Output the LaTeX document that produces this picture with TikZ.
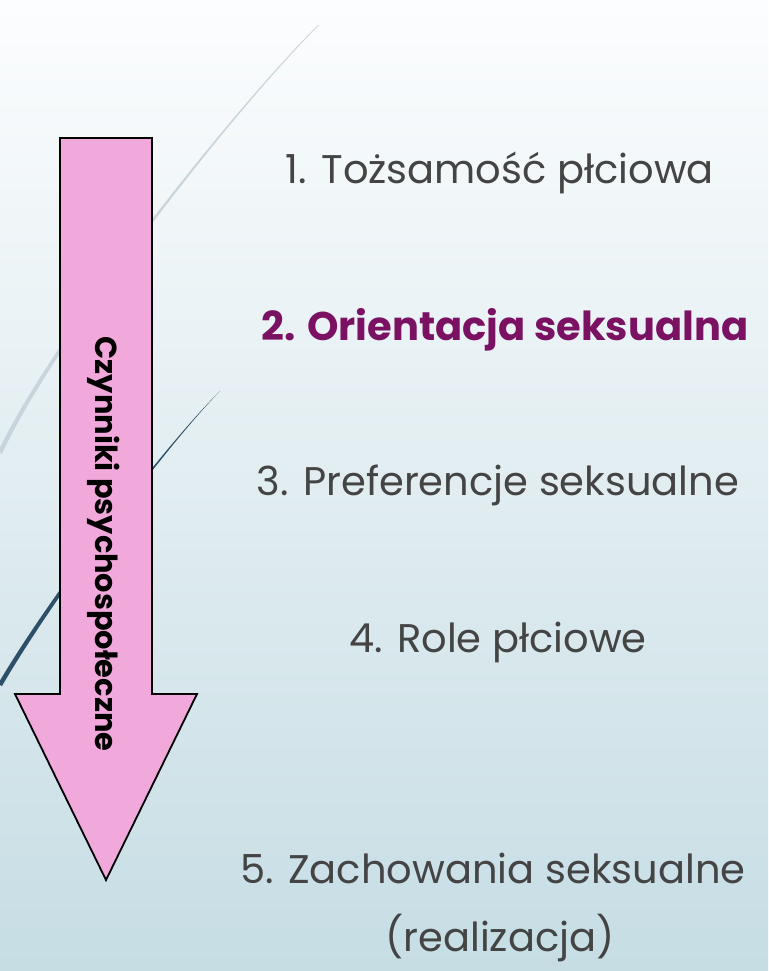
\documentclass[tikz,border=0pt]{standalone}
\usepackage{fontspec}
\setmainfont{Poppins}
\usepackage{xcolor}
\usepackage{tikz}

\definecolor{bgtop}{HTML}{FCFDFE}
\definecolor{bgbottom}{HTML}{C6DDE4}
\definecolor{arrowpink}{HTML}{F1A8DB}
\definecolor{itemgrey}{HTML}{444444}
\definecolor{itempurple}{HTML}{7A1162}
\definecolor{swooshlight}{HTML}{C8D4DB}
\definecolor{swooshdark}{HTML}{2D5068}

\begin{document}
\begin{tikzpicture}[
  x=0.5pt, y=-0.5pt,
  item/.style={
    anchor=base,
    inner sep=0pt,
    text=itemgrey,
    font=\fontsize{20}{24}\selectfont
  },
  keyitem/.style={
    item,
    text=itempurple,
    font=\fontsize{20}{24}\selectfont\bfseries
  },
  bigarrow/.style={
    draw=black,
    fill=arrowpink,
    line width=0.9pt,
    line join=miter
  },
  arrowlabel/.style={
    rotate=-90,
    inner sep=0pt,
    font=\fontsize{15.2}{18}\selectfont\bfseries
  }
]

% Background
\useasboundingbox (0,0) rectangle (768,971);
\fill[top color=bgtop, bottom color=bgbottom] (0,0) rectangle (768,971);
\clip (0,0) rectangle (768,971);

% Decorative swooshes
\fill[swooshlight] (318,25) .. controls (218,125) and (45,350) .. (-2,452)
  -- (2,454) .. controls (48,352) and (219,126) .. (319,25) -- cycle;
\fill[swooshdark] (219,392) .. controls (159,452) and (45,603) .. (-2,684)
  -- (2,686) .. controls (49,605) and (160,453) .. (220,391) -- cycle;

% Down arrow
\draw[bigarrow] (60,138) -- (152,138) -- (152,694) -- (197,694)
  -- (106,880) -- (15,694) -- (60,694) -- cycle;
\node[arrowlabel] (czynniki) at (104,544) {Czynniki psychospołeczne};

% Items
\node[item] (tozsamosc) at (500,183) {1. Tożsamość płciowa};
\node[keyitem] (orientacja) at (505,340) {2. Orientacja seksualna};
\node[item] (preferencje) at (498,495) {3. Preferencje seksualne};
\node[item] (role) at (498,652) {4. Role płciowe};
\node[item] (zachowania) at (493,883) {5. Zachowania seksualne};
\node[item] (realizacja) at (500,951) {(realizacja)};

\end{tikzpicture}
\end{document}
